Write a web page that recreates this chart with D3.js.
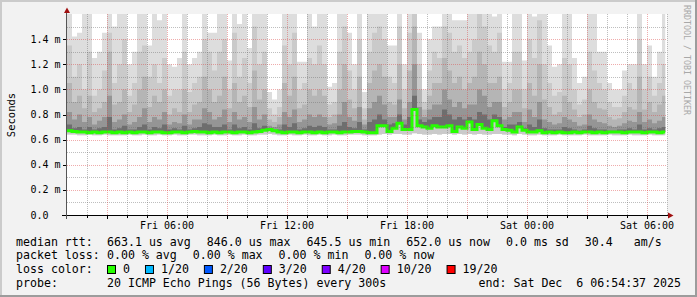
<!DOCTYPE html>
<html>
<head>
<meta charset="utf-8">
<script src="https://cdn.jsdelivr.net/npm/d3@7"></script>
<style>
body { margin: 0; background: #f2f2f2; }
svg { display: block; font-family: "DejaVu Sans Mono", monospace; }
text { white-space: pre; fill: #000; }
</style>
</head>
<body>
<svg id="chart" width="697" height="297"></svg>
<script>
// values in milliseconds, one entry per 15 minutes starting Fri 01:00
var medianRtt = [
    0.67, 0.665, 0.66, 0.66, 0.655, 0.66, 0.655, 0.66, 0.66, 0.655,
    0.66, 0.655, 0.66, 0.655, 0.66, 0.66, 0.655, 0.66, 0.66, 0.655,
    0.655, 0.66, 0.66, 0.655, 0.66, 0.665, 0.66, 0.66, 0.655, 0.66,
    0.655, 0.66, 0.66, 0.655, 0.66, 0.66, 0.655, 0.66, 0.665, 0.675,
    0.68, 0.67, 0.66, 0.655, 0.66, 0.66, 0.655, 0.66, 0.66, 0.655,
    0.66, 0.655, 0.66, 0.66, 0.655, 0.66, 0.66, 0.665, 0.665, 0.66,
    0.655, 0.655, 0.71, 0.71, 0.665, 0.69, 0.73, 0.68, 0.68, 0.84,
    0.71, 0.70, 0.69, 0.71, 0.70, 0.70, 0.71, 0.665, 0.70, 0.69,
    0.74, 0.68, 0.72, 0.69, 0.68, 0.75, 0.71, 0.68, 0.675, 0.66,
    0.70, 0.675, 0.66, 0.66, 0.67, 0.655, 0.66, 0.655, 0.66, 0.655,
    0.655, 0.66, 0.655, 0.66, 0.66, 0.655, 0.66, 0.655, 0.66, 0.66,
    0.66, 0.655, 0.66, 0.66, 0.66, 0.655, 0.66, 0.66, 0.655, 0.66
];
var smokeMax = [
    1.7, 1.42, 1.45, 1.7, 1.7, 1.25, 1.3, 1.45, 1.7, 1.5,
    1.7, 1.7, 1.2, 1.3, 1.7, 1.7, 1.35, 1.7, 1.55, 1.7,
    1.2, 1.18, 1.25, 1.7, 1.2, 1.25, 1.3, 1.7, 1.45, 1.45,
    1.7, 1.7, 1.23, 1.7, 1.52, 1.7, 1.33, 1.7, 1.7, 1.7,
    0.98, 0.92, 1.0, 1.7, 1.7, 1.7, 1.22, 1.22, 1.7, 1.5,
    1.7, 1.7, 1.02, 1.05, 1.7, 1.7, 1.45, 1.2, 1.7, 0.98,
    1.7, 1.7, 1.7, 1.7, 1.35, 1.35, 1.7, 1.2, 1.7, 1.7,
    1.45, 1.0, 1.4, 1.5, 1.5, 1.7, 1.7, 1.55, 1.55, 1.55,
    1.7, 1.7, 1.7, 1.7, 1.7, 1.58, 1.7, 1.22, 1.22, 1.7,
    1.7, 1.23, 1.7, 1.58, 1.7, 1.7, 1.35, 1.18, 1.2, 1.7,
    1.7, 1.25, 1.05, 1.1, 1.7, 1.7, 1.3, 1.3, 1.05, 1.0,
    1.0, 1.15, 1.2, 1.2, 1.7, 1.2, 1.35, 1.1, 1.3, 1.7
];
var smokeP90 = [
    1.35, 1.1, 1.2, 1.0, 1.3, 0.95, 1.0, 1.15, 1.45, 1.05,
    1.2, 1.4, 0.95, 1.05, 1.3, 1.35, 1.1, 1.2, 1.05, 1.25,
    0.95, 1.0, 1.0, 1.3, 0.98, 1.05, 1.1, 1.4, 1.3, 1.15,
    1.3, 1.4, 1.0, 1.45, 1.1, 1.25, 1.05, 1.5, 1.2, 1.3,
    0.85, 0.8, 0.86, 1.35, 1.2, 1.45, 1.0, 1.05, 1.25, 1.2,
    1.35, 1.2, 0.88, 0.9, 1.3, 1.5, 1.15, 1.0, 1.4, 0.85,
    1.3, 1.45, 1.5, 1.4, 1.1, 1.05, 1.5, 1.0, 1.45, 1.6,
    1.2, 0.9, 1.15, 1.3, 1.25, 1.5, 1.45, 1.3, 1.35, 1.25,
    1.3, 1.4, 1.6, 1.5, 1.35, 1.3, 1.45, 1.0, 1.05, 1.3,
    1.3, 1.0, 1.4, 1.25, 1.55, 1.2, 1.05, 0.95, 0.98, 1.25,
    1.2, 1.0, 0.88, 0.92, 1.3, 1.15, 1.05, 1.0, 0.9, 0.86,
    0.86, 0.95, 1.05, 1.0, 1.4, 1.0, 1.1, 0.95, 1.05, 1.2
];
var smokeP80 = [
    1.05, 0.9, 0.95, 0.85, 0.95, 0.82, 0.85, 0.9, 1.3, 0.88,
    0.9, 1.0, 0.82, 0.88, 1.0, 1.1, 0.86, 0.95, 0.9, 1.0,
    0.8, 0.85, 0.82, 1.0, 0.82, 0.88, 0.9, 1.1, 1.0, 0.9,
    0.95, 1.1, 0.85, 1.05, 0.9, 0.95, 0.86, 1.15, 0.92, 1.0,
    0.76, 0.74, 0.78, 1.05, 0.95, 1.1, 0.85, 0.88, 1.0, 0.95,
    1.0, 0.95, 0.78, 0.8, 1.0, 1.2, 0.92, 0.85, 1.1, 0.76,
    1.05, 1.15, 1.2, 1.1, 0.9, 0.88, 1.2, 0.85, 1.15, 1.5,
    1.0, 0.84, 0.95, 1.05, 1.05, 1.25, 1.15, 1.05, 1.1, 1.0,
    1.05, 1.1, 1.3, 1.2, 1.05, 1.05, 1.1, 0.86, 0.9, 1.0,
    1.0, 0.85, 1.05, 0.95, 1.2, 0.92, 0.86, 0.8, 0.82, 0.95,
    0.9, 0.84, 0.78, 0.8, 1.0, 0.9, 0.85, 0.84, 0.78, 0.76,
    0.77, 0.82, 0.86, 0.84, 1.1, 0.84, 0.9, 0.82, 0.88, 0.95
];
var smokeP70 = [
    0.82, 0.76, 0.8, 0.74, 0.78, 0.72, 0.75, 0.78, 0.95, 0.74,
    0.76, 0.8, 0.72, 0.74, 0.78, 0.85, 0.74, 0.78, 0.76, 0.82,
    0.72, 0.74, 0.73, 0.8, 0.72, 0.76, 0.76, 0.85, 0.82, 0.76,
    0.78, 0.84, 0.74, 0.82, 0.76, 0.78, 0.74, 0.86, 0.76, 0.8,
    0.71, 0.7, 0.72, 0.82, 0.78, 0.84, 0.74, 0.76, 0.8, 0.78,
    0.8, 0.78, 0.72, 0.73, 0.8, 0.9, 0.78, 0.75, 0.86, 0.72,
    0.85, 0.9, 0.95, 0.88, 0.78, 0.78, 0.92, 0.76, 0.9, 1.2,
    0.86, 0.78, 0.84, 0.88, 0.88, 1.0, 0.92, 0.86, 0.9, 0.85,
    0.88, 0.88, 1.0, 0.95, 0.86, 0.9, 0.9, 0.76, 0.78, 0.82,
    0.82, 0.74, 0.84, 0.78, 0.9, 0.76, 0.74, 0.72, 0.73, 0.78,
    0.76, 0.74, 0.71, 0.72, 0.8, 0.76, 0.74, 0.73, 0.71, 0.7,
    0.71, 0.73, 0.75, 0.74, 0.82, 0.74, 0.76, 0.73, 0.75, 0.78
];
var smokeP60 = [
    0.72, 0.69, 0.7, 0.68, 0.7, 0.68, 0.69, 0.7, 0.78, 0.68,
    0.69, 0.71, 0.68, 0.68, 0.7, 0.72, 0.68, 0.7, 0.69, 0.72,
    0.68, 0.69, 0.68, 0.71, 0.68, 0.69, 0.7, 0.73, 0.72, 0.7,
    0.7, 0.72, 0.68, 0.72, 0.69, 0.7, 0.68, 0.73, 0.69, 0.71,
    0.68, 0.67, 0.68, 0.72, 0.7, 0.73, 0.68, 0.69, 0.71, 0.7,
    0.71, 0.7, 0.68, 0.68, 0.71, 0.74, 0.7, 0.69, 0.74, 0.68,
    0.74, 0.76, 0.8, 0.76, 0.72, 0.73, 0.8, 0.72, 0.78, 0.95,
    0.76, 0.74, 0.76, 0.78, 0.78, 0.84, 0.8, 0.76, 0.78, 0.76,
    0.78, 0.76, 0.82, 0.8, 0.76, 0.8, 0.78, 0.7, 0.72, 0.72,
    0.74, 0.69, 0.72, 0.7, 0.76, 0.69, 0.68, 0.68, 0.68, 0.7,
    0.69, 0.68, 0.67, 0.68, 0.71, 0.69, 0.68, 0.68, 0.67, 0.67,
    0.68, 0.68, 0.69, 0.68, 0.72, 0.68, 0.69, 0.68, 0.69, 0.7
];
var smokeMin = [
    0.64, 0.64, 0.635, 0.635, 0.64, 0.635, 0.635, 0.64, 0.635, 0.635,
    0.635, 0.635, 0.64, 0.635, 0.635, 0.64, 0.635, 0.635, 0.64, 0.635,
    0.635, 0.64, 0.635, 0.635, 0.64, 0.64, 0.635, 0.635, 0.635, 0.64,
    0.635, 0.635, 0.64, 0.635, 0.635, 0.64, 0.635, 0.635, 0.64, 0.64,
    0.645, 0.64, 0.635, 0.635, 0.64, 0.635, 0.635, 0.64, 0.635, 0.635,
    0.64, 0.635, 0.635, 0.64, 0.635, 0.635, 0.64, 0.64, 0.64, 0.635,
    0.635, 0.635, 0.64, 0.645, 0.64, 0.645, 0.645, 0.64, 0.64, 0.65,
    0.645, 0.64, 0.64, 0.645, 0.64, 0.645, 0.645, 0.64, 0.645, 0.64,
    0.645, 0.64, 0.645, 0.64, 0.64, 0.645, 0.645, 0.64, 0.64, 0.635,
    0.645, 0.64, 0.635, 0.635, 0.64, 0.635, 0.635, 0.635, 0.64, 0.635,
    0.635, 0.635, 0.635, 0.64, 0.635, 0.635, 0.635, 0.635, 0.64, 0.635,
    0.635, 0.635, 0.64, 0.635, 0.635, 0.635, 0.64, 0.635, 0.635, 0.635
];

var yTickValues = [0, 0.2, 0.4, 0.6, 0.8, 1.0, 1.2, 1.4];
var yTickLabels = ["0.0", "0.2 m", "0.4 m", "0.6 m", "0.8 m", "1.0 m", "1.2 m", "1.4 m"];
var xTickTimes = ["2025-12-05T06:00:00Z", "2025-12-05T12:00:00Z", "2025-12-05T18:00:00Z",
                  "2025-12-06T00:00:00Z", "2025-12-06T06:00:00Z"];
var xTickLabels = ["Fri 06:00", "Fri 12:00", "Fri 18:00", "Sat 00:00", "Sat 06:00"];

var rttStats = ["663.1 us avg", "846.0 us max", "645.5 us min", "652.0 us now", "0.0 ms sd", "30.4   am/s"];
var lossStats = ["0.00 % avg", "0.00 % max", "0.00 % min", "0.00 % now"];
var lossLabels = ["0", "1/20", "2/20", "3/20", "4/20", "10/20", "19/20"];
var lossColors = ["#26ff00", "#00b8ff", "#0059ff", "#5e00ff", "#7e00ff", "#dd00ff", "#ff0000"];
var probeText = "20 ICMP Echo Pings (56 Bytes) every 300s";
var endText = "end: Sat Dec  6 06:54:37 2025";

var startTime = new Date("2025-12-05T01:00:00Z");
var axisEnd = new Date("2025-12-06T07:00:00Z");
var dataEnd = new Date("2025-12-06T06:54:37Z");
var stepMs = 15 * 60 * 1000;

var svg = d3.select("#chart");

// frame
svg.append("rect").attr("width", 697).attr("height", 297).attr("fill", "#f2f2f2");
svg.append("path").attr("d", "M0,297V0H697").attr("fill", "none")
    .attr("stroke", "#cbcbcb").attr("stroke-width", 4);
svg.append("path").attr("d", "M0,297H697V0").attr("fill", "none")
    .attr("stroke", "#9c9c9c").attr("stroke-width", 4);

var x = d3.scaleUtc().domain([startTime, axisEnd]).range([67, 667]);
var y = d3.scaleLinear().domain([0, 1.6]).range([215, 14]);

svg.append("rect").attr("x", 67).attr("y", 14).attr("width", 600).attr("height", 201)
    .attr("fill", "#fff");

svg.append("defs").append("clipPath").attr("id", "plotclip")
    .append("rect").attr("x", 67).attr("y", 14)
    .attr("width", x(dataEnd) - 67).attr("height", 201);

// one row per time step, plus a closing row so the last step has a width
var rows = medianRtt.map(function(m, i)
{
    return {
        t: new Date(startTime.getTime() + i * stepMs),
        median: m, min: smokeMin[i],
        bands: [smokeMax[i], smokeP90[i], smokeP80[i], smokeP70[i], smokeP60[i]]
    };
});
var last = rows[rows.length - 1];
rows.push({ t: axisEnd, median: last.median, min: last.min, bands: last.bands });

var bandColors = ["#dddddd", "#cacaca", "#b5b5b5", "#959595", "#6e6e6e"];
var smoke = svg.append("g").attr("clip-path", "url(#plotclip)");

bandColors.forEach(function(color, b)
{
    var area = d3.area()
        .curve(d3.curveStepAfter)
        .x(function(d) { return x(d.t); })
        .y0(function(d) { return y(b < 2 ? d.min : d.median); })
        .y1(function(d) { return y(Math.min(d.bands[b], 1.62)); });

    smoke.append("path").datum(rows)
        .attr("fill", color)
        .attr("d", area);
});

// grid
var grid = svg.append("g").attr("shape-rendering", "crispEdges");
d3.range(1, 16).forEach(function(i)
{
    var yy = Math.round(y(i / 10)) + 0.5;
    grid.append("line")
        .attr("x1", 67).attr("x2", 667).attr("y1", yy).attr("y2", yy)
        .attr("stroke", i % 2 == 0 ? "rgba(220,70,70,0.45)" : "rgba(110,110,110,0.45)")
        .attr("stroke-dasharray", "1,1");
});
d3.utcHour.range(d3.utcHour.offset(startTime, 1), d3.utcHour.offset(axisEnd, 1)).forEach(function(t)
{
    var xx = Math.round(x(t)) + 0.5;
    grid.append("line")
        .attr("x1", xx).attr("x2", xx).attr("y1", 14).attr("y2", 215)
        .attr("stroke", t.getUTCHours() % 3 == 0 ? "rgba(220,70,70,0.45)" : "rgba(110,110,110,0.45)")
        .attr("stroke-dasharray", "1,1");
});

// median line
var medianLine = d3.line()
    .curve(d3.curveStepAfter)
    .x(function(d) { return x(d.t); })
    .y(function(d) { return y(d.median); });

smoke.append("path").datum(rows)
    .attr("fill", "none")
    .attr("stroke", lossColors[0])
    .attr("stroke-width", 3)
    .attr("d", medianLine);

// axes
var axes = svg.append("g").attr("shape-rendering", "crispEdges");
axes.append("line").attr("x1", 62).attr("x2", 669).attr("y1", 215.5).attr("y2", 215.5)
    .attr("stroke", "#000");
axes.append("line").attr("x1", 66.5).attr("x2", 66.5).attr("y1", 219).attr("y2", 12)
    .attr("stroke", "#555");
svg.append("path").attr("d", "M64,13L67,7.5L70,13Z").attr("fill", "#a01010");
svg.append("path").attr("d", "M668,212.5L673.5,215.5L668,218.5Z").attr("fill", "#a01010");

yTickValues.forEach(function(v)
{
    var yy = Math.round(y(v)) + 0.5;
    axes.append("line").attr("x1", 63).attr("x2", 66).attr("y1", yy).attr("y2", yy)
        .attr("stroke", "#000");
});
d3.utcHour.range(d3.utcHour.offset(startTime, 1), axisEnd).forEach(function(t)
{
    var xx = Math.round(x(t)) + 0.5;
    axes.append("line").attr("x1", xx).attr("x2", xx).attr("y1", 216)
        .attr("y2", t.getUTCHours() % 3 == 0 ? 219 : 218).attr("stroke", "#000");
});

svg.append("g").selectAll("text").data(yTickValues).enter().append("text")
    .attr("x", 30.5)
    .attr("y", function(v) { return y(v) + 3.5; })
    .attr("font-size", 10)
    .text(function(v, i) { return yTickLabels[i]; });

svg.append("g").selectAll("text").data(xTickTimes).enter().append("text")
    .attr("x", function(t) { return x(new Date(t)); })
    .attr("y", 228.5)
    .attr("font-size", 10)
    .attr("text-anchor", "middle")
    .text(function(t, i) { return xTickLabels[i]; });

svg.append("text")
    .attr("transform", "translate(15,115) rotate(-90)")
    .attr("text-anchor", "middle")
    .attr("font-size", 10.5)
    .text("Seconds");

svg.append("text")
    .attr("transform", "translate(684,5) rotate(90)")
    .attr("font-size", 8.3)
    .style("fill", "#a8a8a8")
    .text("RRDTOOL / TOBI OETIKER");

// legend
var legend = svg.append("g").attr("font-size", 11.6);
var rowY = [245.5, 259.3, 273, 286.7];
var charW = 6.98;

legend.append("text").attr("x", 16).attr("y", rowY[0]).text("median rtt:");
var cx = 107;
rttStats.forEach(function(s)
{
    legend.append("text").attr("x", cx).attr("y", rowY[0]).text(s);
    cx += s.length * charW + 16;
});

legend.append("text").attr("x", 16).attr("y", rowY[1]).text("packet loss:");
cx = 107;
lossStats.forEach(function(s)
{
    legend.append("text").attr("x", cx).attr("y", rowY[1]).text(s);
    cx += s.length * charW + 16;
});

legend.append("text").attr("x", 16).attr("y", rowY[2]).text("loss color:");
cx = 107;
lossLabels.forEach(function(s, i)
{
    legend.append("rect")
        .attr("x", cx + 0.5).attr("y", rowY[2] - 7.5)
        .attr("width", 8).attr("height", 8)
        .attr("fill", lossColors[i]).attr("stroke", "#000");
    legend.append("text").attr("x", cx + 16).attr("y", rowY[2]).text(s);
    cx += 16 + s.length * charW + 15;
});

legend.append("text").attr("x", 16).attr("y", rowY[3]).text("probe:");
legend.append("text").attr("x", 107).attr("y", rowY[3]).text(probeText);
legend.append("text").attr("x", 681).attr("y", rowY[3]).attr("text-anchor", "end").text(endText);
</script>
</body>
</html>
